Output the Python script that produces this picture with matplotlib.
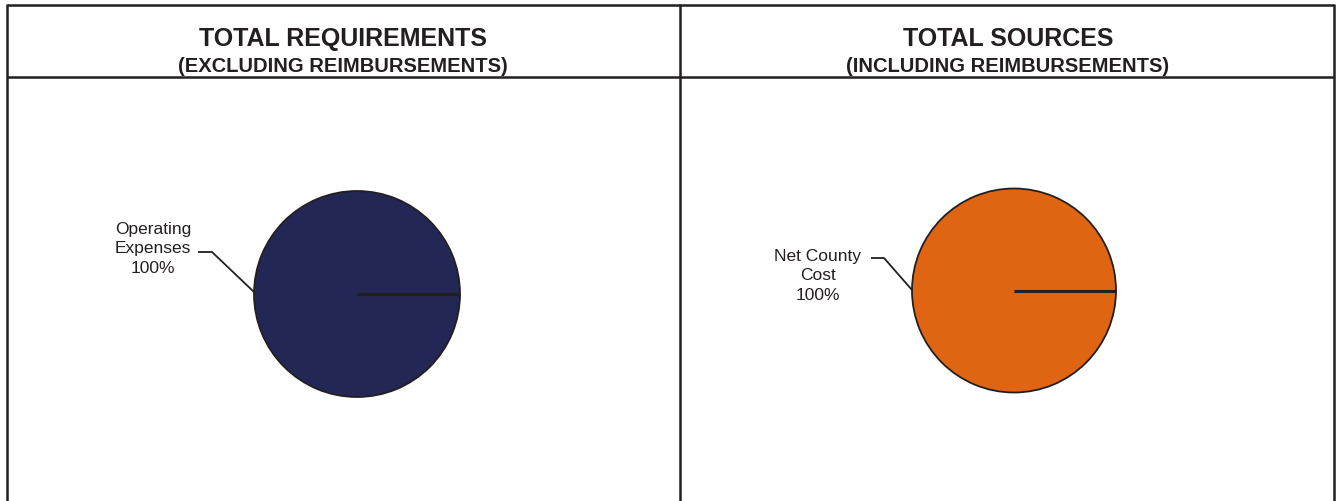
import matplotlib.pyplot as plt
from matplotlib.lines import Line2D

plt.rcParams["font.family"] = ["Liberation Sans", "DejaVu Sans"]

# chart data
titles = ["TOTAL REQUIREMENTS", "TOTAL SOURCES"]
subtitles = ["(EXCLUDING REIMBURSEMENTS)", "(INCLUDING REIMBURSEMENTS)"]
req_labels = ["Operating\nExpenses"]
req_values = [100]
src_labels = ["Net County\nCost"]
src_values = [100]
colors = ["#232755", "#DF6513"]

W, H = 1341, 501
fig = plt.figure(figsize=(W / 100, H / 100), dpi=100)


def fx(x):
    return x / W


def fy(y):
    return 1 - y / H


def line(xs, ys, lw=1.6):
    fig.add_artist(Line2D([fx(x) for x in xs], [fy(y) for y in ys],
                          transform=fig.transFigure, color="#231F20",
                          linewidth=lw, solid_capstyle="butt"))


# frame
line([7, 7], [4, H], lw=1.8)
line([680, 680], [4, H], lw=1.8)
line([1334, 1334], [4, H], lw=1.8)
line([7, 1334], [5, 5], lw=1.8)
line([7, 1334], [77, 77], lw=1.8)

# headers
for cx, t, s in zip([343, 1008], titles, subtitles):
    fig.text(fx(cx), fy(46), t, ha="center", va="baseline",
             fontsize=18, fontweight="bold", color="#231F20")
    fig.text(fx(cx), fy(72), s, ha="center", va="baseline",
             fontsize=14.5, fontweight="bold", color="#231F20")


def draw_pie(cx, cy, r, values, labels, color, text_pos, leader):
    ax = fig.add_axes([fx(cx - r), fy(cy + r), 2 * r / W, 2 * r / H])
    wedges, _ = ax.pie(values, colors=[color], startangle=0, radius=1,
                       wedgeprops=dict(edgecolor="#231F20", linewidth=1.3))
    ax.set_xlim(-1, 1)
    ax.set_ylim(-1, 1)
    ax.set_axis_off()
    # slice boundary from centre at the start angle
    ax.plot([0, 1], [0, 0], color="#231F20", linewidth=2.2,
            solid_capstyle="butt", clip_on=False)
    pct = 100 * values[0] / sum(values)
    tx, ty = text_pos
    fig.text(fx(tx), fy(ty), f"{labels[0]}\n{pct:.0f}%", ha="center",
             va="center", fontsize=12.5, linespacing=1.4, color="#231F20")
    line(*leader, lw=1.3)


draw_pie(357, 294, 103, req_values, req_labels, colors[0],
         (153, 249), ([198, 212, 254], [252, 252, 292]))
draw_pie(1014, 290.5, 102, src_values, src_labels, colors[1],
         (818, 276), ([871, 884, 912], [258, 258, 290]))

fig.savefig("out.png", dpi=100, facecolor="white")
